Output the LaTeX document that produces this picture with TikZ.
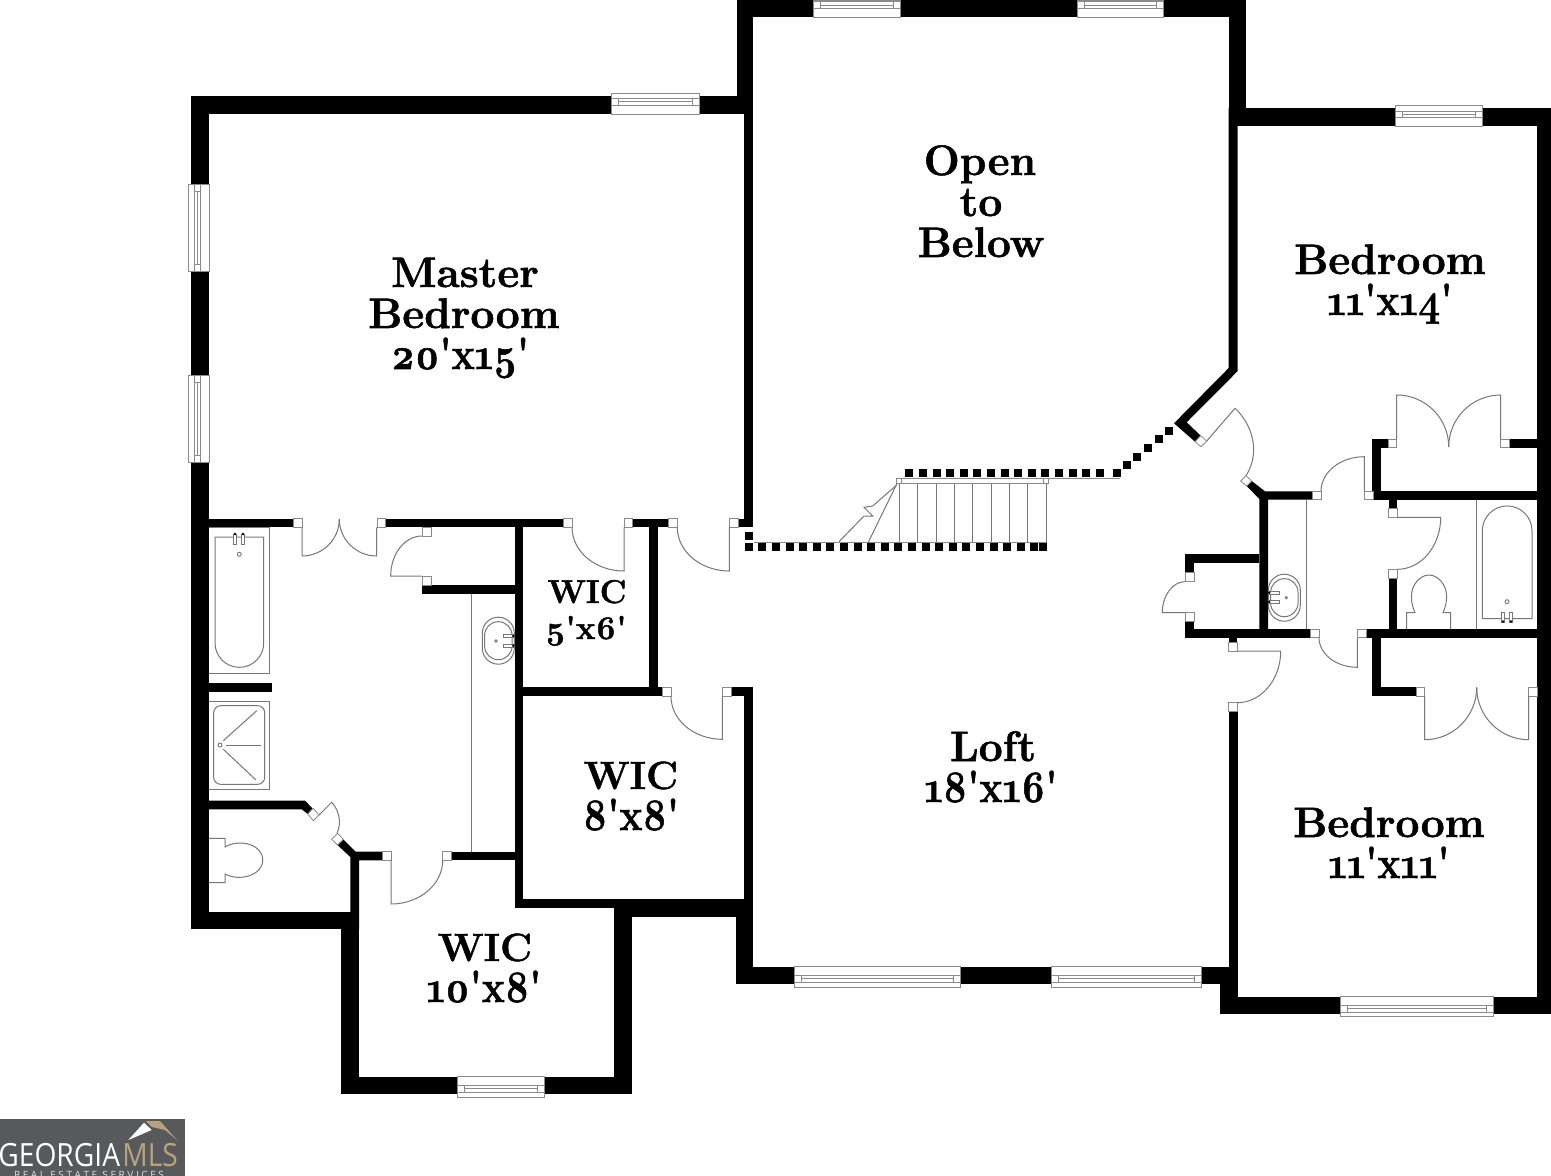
\documentclass[tikz,border=0pt]{standalone}
\usepackage{fontspec}
\newfontfamily\roomfont[Numbers=OldStyle,BoldFeatures={FakeBold=1.3}]{Latin Modern Roman}
\newfontfamily\logofont{Open Sans}
\definecolor{fineline}{HTML}{777777}
\definecolor{winline}{HTML}{8A8A8A}
\definecolor{logobg}{HTML}{58595B}
\definecolor{logotan}{HTML}{B9A27F}
\tikzset{
  wallfill/.style={fill=black},
  fine/.style={draw=fineline,line width=0.5pt},
  fixture/.style={draw=fineline,line width=0.45pt,fill=white},
  jambbox/.style={draw=winline,line width=0.4pt,fill=white},
  winbox/.style={draw=winline,line width=0.45pt,fill=white},
  big/.style={font=\roomfont\bfseries\fontsize{21.3}{24}\selectfont,inner sep=0pt,anchor=base},
  bignum/.style={font=\roomfont\bfseries\fontsize{22.5}{24}\selectfont,inner sep=0pt,anchor=base},
  bigwic/.style={font=\roomfont\bfseries\fontsize{19.7}{24}\selectfont,inner sep=0pt,anchor=base},
  small/.style={font=\roomfont\bfseries\fontsize{16.5}{20}\selectfont,inner sep=0pt,anchor=base},
}
\newcommand{\nm}[1]{\scalebox{0.86}[1]{#1}}
% wall rectangle: x1 y1 x2 y2
\newcommand{\wl}[4]{\fill[wallfill] (#1,#2) rectangle (#3,#4);}
\newcommand{\jb}[4]{\path[jambbox] (#1,#2) rectangle (#3,#4);}
% vertical leaf: hinge x,y ; tip y ; arc end x,y
\newcommand{\doorV}[5]{%
  \pgfmathsetmacro{\cax}{#1+0.5523*(#4-#1)}%
  \pgfmathsetmacro{\cby}{#5+0.5523*(#3-#5)}%
  \draw[fine] (#1,#2) -- (#1,#3) .. controls (\cax,#3) and (#4,\cby) .. (#4,#5);}
% horizontal leaf: hinge x,y ; tip x ; arc end x,y
\newcommand{\doorH}[5]{%
  \pgfmathsetmacro{\cay}{#2+0.5523*(#5-#2)}%
  \pgfmathsetmacro{\cbx}{#4+0.5523*(#3-#4)}%
  \draw[fine] (#1,#2) -- (#3,#2) .. controls (#3,\cay) and (\cbx,#5) .. (#4,#5);}
% horizontal window: x1 x2 ytop ybot l1 l2 l3
\newcommand{\winH}[7]{%
  \path[winbox] (#1,#3) rectangle (#2,#4);
  \pgfmathsetmacro{\wa}{#1+7}\pgfmathsetmacro{\wb}{#2-7}%
  \draw[winbox] (\wa,#5) rectangle (\wb,#7);
  \draw[winbox] (\wa,#6) -- (\wb,#6);
  \draw[winbox] (#1,#5) -- (\wa,#5) (#1,#7) -- (\wa,#7) (\wb,#5) -- (#2,#5) (\wb,#7) -- (#2,#7);}
% vertical window: y1 y2 xleft xright l1 l2 l3
\newcommand{\winV}[7]{%
  \path[winbox] (#3,#1) rectangle (#4,#2);
  \pgfmathsetmacro{\wa}{#1+7}\pgfmathsetmacro{\wb}{#2-7}%
  \draw[winbox] (#5,\wa) rectangle (#7,\wb);
  \draw[winbox] (#6,\wa) -- (#6,\wb);
  \draw[winbox] (#5,#1) -- (#5,\wa) (#7,#1) -- (#7,\wa) (#5,\wb) -- (#5,#2) (#7,\wb) -- (#7,#2);}
\newcommand{\dt}[2]{\fill[wallfill] ({#1-4},{#2-4}) rectangle ({#1+4},{#2+4});}
\begin{document}
\begin{tikzpicture}[x=0.5pt,y=-0.5pt]
\useasboundingbox (0,0) rectangle (1551,1176);
\fill[white] (0,0) rectangle (1551,1176);

% ---- stairs (under the dots) ----
\draw[winbox,fill=none] (754,542.3) -- (1046.5,542.3);
\draw[winbox,fill=none] (1046.5,478.3) -- (1120,478.3);
\foreach \tx in {899,917.7,936,954.3,972.7,991,1009.3,1027.7,1046.3}{
  \draw[fine] (\tx,483.3) -- (\tx,542.3);
}
\path[winbox] (899,478.3) rectangle (1046,483.3);
\path[winbox] (896.7,478) rectangle (901.3,483);
\path[winbox] (1043.7,478) rectangle (1048.3,483);
\draw[fine] (896.7,484) -- (868.3,542.3);
\draw[fine] (896.7,485) -- (872.7,506) -- (864,507.3) -- (872.7,516) -- (864,516) -- (839,541.7);

% ---- railing dots ----
\foreach \i in {0,...,14}{\dt{909.3+13.6*\i}{473}}
\dt{1116.7}{473}
\dt{1127}{465}\dt{1137.3}{456.7}\dt{1148}{448}\dt{1158.7}{439.3}\dt{1169.3}{430.7}
\foreach \i in {0,...,21}{\dt{748.7+13.6*\i}{547}}
\dt{1043}{547}
\dt{748.5}{535.5}

% ---- walls: master suite ----
\wl{191}{96}{209}{929.3}
\wl{191}{96}{753}{114}
\wl{737}{0}{753}{114}
\wl{744.3}{96}{753.3}{527.3}
\wl{737}{0}{1246}{17.3}
\wl{1228.7}{0}{1246}{126}
\wl{1228.7}{108.3}{1551}{126}
\wl{1537}{108.3}{1551}{1014}
\wl{209}{518.7}{293}{527.3}
\wl{385}{518.7}{563}{527.3}
\wl{632.7}{518.7}{668.3}{527.3}
\wl{738}{518.7}{753.3}{527.3}
\wl{514.7}{518.7}{523.3}{908}
\wl{649}{518.7}{658}{696.3}
\wl{514.7}{687}{662.3}{696.3}
\wl{731}{687}{753.3}{696.3}
\wl{744.3}{687}{753.3}{917}
\wl{422}{585}{514.7}{594}
\wl{209}{683}{272.3}{692}
\fill[wallfill] (209,800.7) -- (305,800.7) -- (312.5,808.3) -- (307.7,814) -- (301.7,809.3) -- (209,809.3) -- cycle;
\fill[wallfill] (337.5,845) -- (343.3,839.3) -- (355.7,851.7) -- (382.3,851.7) -- (382.3,860.3) -- (359,860.3) -- (359,929.3) -- (350.3,929.3) -- (350.3,857) -- cycle;
\wl{451.7}{851.7}{514.7}{860.3}
\wl{191}{911.7}{359}{929.3}
\wl{341.3}{911.7}{359}{1094.3}
\wl{341.3}{1076.7}{631.7}{1094.3}
\wl{614.3}{899}{631.7}{1094.3}
\wl{514.7}{899}{744.3}{908}
\wl{614.3}{899}{753.3}{917}
\wl{735.7}{908}{753.3}{984.3}
\wl{735.7}{966.7}{1237.7}{984.3}
\wl{1219.7}{966.7}{1237.7}{1014}
\wl{1219.7}{996.7}{1551}{1014}
\wl{1228.7}{711.7}{1237.5}{1000}

% ---- walls: right side ----
\fill[wallfill] (1228.7,108.3) -- (1237.7,108.3) -- (1237.7,371) -- (1186.7,422.3) -- (1200.7,435.7) -- (1195,441.7) -- (1174,423.3) -- (1228.7,368) -- cycle;
\fill[wallfill] (1246.7,486) -- (1251.7,481) -- (1265,491.3) -- (1312.3,491.3) -- (1312.3,499.7) -- (1268,499.7) -- (1268,637.7) -- (1259.3,637.7) -- (1259.3,499) -- cycle;
\wl{1373}{491.3}{1537}{499.7}
\wl{1372.3}{439}{1381.3}{499.7}
\wl{1372.3}{439}{1388}{447.7}
\wl{1509.3}{439}{1537}{447.7}
\wl{1388.7}{499.7}{1397.3}{508.7}
\wl{1388.7}{578}{1397.3}{629}
\wl{1185}{629}{1310.3}{637.7}
\wl{1366}{629}{1537}{637.7}
\wl{1185}{553.7}{1259.3}{562.7}
\wl{1185}{553.7}{1194}{572.7}
\wl{1185}{621.7}{1194}{637.7}
\wl{1228.7}{637.7}{1237.3}{642.3}
\wl{1372.3}{637.7}{1381.3}{696}
\wl{1372.3}{687.3}{1416}{696}

% ---- door jambs ----
\jb{293}{518.7}{302}{527.3}
\jb{377}{518.7}{385}{527.3}
\jb{422}{527.3}{431}{536}
\jb{422}{576}{431}{585}
\jb{563}{518.7}{572}{527.3}
\jb{624}{518.7}{632.7}{527.3}
\jb{668.3}{518.7}{677.3}{527.3}
\jb{729.3}{518.7}{738}{527.3}
\jb{662.3}{687}{671}{696.3}
\jb{722.3}{687}{731}{696.3}
\jb{382.3}{851.7}{391}{860.3}
\jb{442.7}{851.7}{451.7}{860.3}
\path[jambbox] (307.7,814) -- (313.3,808.3) -- (319,815) -- (313.3,820.7) -- cycle;
\path[jambbox] (331.7,839.3) -- (337.7,833.3) -- (343.3,839.3) -- (337.5,845) -- cycle;
\path[jambbox] (1195,441.7) -- (1200.7,435.7) -- (1206.7,441) -- (1201,446.7) -- cycle;
\path[jambbox] (1240.7,481) -- (1246,475.7) -- (1251.7,481) -- (1246.7,486) -- cycle;
\jb{1312.3}{491.3}{1321}{499.7}
\jb{1364.3}{491.3}{1373}{499.7}
\jb{1388}{439}{1396.7}{447.7}
\jb{1500.7}{439}{1509.3}{447.7}
\jb{1388.7}{508.7}{1397.3}{517.3}
\jb{1388.7}{569.3}{1397.3}{578}
\jb{1310.3}{629}{1319}{637.7}
\jb{1357.3}{629}{1366}{637.7}
\jb{1185}{572.7}{1194}{581.7}
\jb{1185}{612.7}{1194}{621.7}
\jb{1228.7}{642.3}{1237.3}{651}
\jb{1228.7}{702.7}{1237.3}{711.7}
\jb{1416}{687.3}{1424.7}{696}
\jb{1528.7}{687.3}{1537}{696}

% ---- door leaves ----
\doorV{302}{527.3}{556}{339.3}{519}
\doorV{376.7}{527.3}{556}{339.3}{519}
\doorH{422}{576}{390.7}{422}{536}
\doorV{624}{527.3}{571}{572}{527.3}
\doorV{729.3}{527.3}{571}{677.3}{527.3}
\doorV{722.3}{696.3}{739.3}{671}{696.3}
\doorV{391}{860.3}{904}{442.7}{860.3}
\draw[fine] (319,815) -- (331.7,802.3) .. controls (339,810) and (342,823) .. (337,833);
\draw[fine] (1206.7,441) -- (1235,408.3) .. controls (1252,424) and (1261,452) .. (1246,475.7);
\doorV{1364.3}{491.3}{456.7}{1321}{491.3}
\doorV{1357.3}{637.7}{667.3}{1319}{637.7}
\doorH{1185}{612.7}{1162.3}{1185}{581.7}
\doorH{1237.3}{651}{1280.7}{1237.3}{702.7}
\doorH{1397.3}{517.3}{1440.7}{1397.3}{569.3}
\doorV{1396.7}{439}{395}{1448.7}{447}
\doorV{1500.7}{439}{395}{1448.7}{447}
\doorV{1424.7}{696}{739.7}{1476.7}{687.3}
\doorV{1528.7}{696}{739.7}{1476.7}{687.3}

% ---- master bath fixtures ----
\draw[fine,fill=white] (209,527.3) -- (269.7,527.3) -- (269.7,673.3) -- (209,673.3);
\draw[fine] (215,537) -- (263.7,537) -- (263.7,643) arc[start angle=0,end angle=180,radius=24.35] -- cycle;
\draw[fixture] (233.5,534) rectangle (236.5,544.3);
\draw[fixture] (241.5,534) rectangle (244.5,544.3);
\fill[black] (235,534) circle[radius=1.4];
\fill[black] (243,534) circle[radius=1.4];
\draw[fixture] (239.3,554.3) circle[radius=2];
\draw[fine] (209,701) -- (269.7,701) -- (269.7,789) -- (209,789);
\draw[fine,rounded corners=3.5pt] (213.7,705.7) rectangle (264.7,784.3);
\draw[fixture] (220,745) circle[radius=2];
\draw[fine] (223.3,740.7) -- (256.7,710.7);
\draw[fine] (226,745) -- (260.7,745);
\draw[fine] (223.3,749.3) -- (256,780);
\draw[fine] (209,838.3) -- (225,838.3) -- (225,847) .. controls (240,838) and (263,845) .. (262.7,860) .. controls (263,875) and (240,882) .. (225,874) -- (225,882.7) -- (209,882.7);
\draw[fine] (471,594) -- (471,851.7);
\draw[fine,rounded corners=8pt] (482.3,617.2) rectangle (514.3,664.2);
\draw[fine,rounded corners=6.8pt] (484.6,621.7) rectangle (512,659.7);
\draw[fixture] (503.3,634.5) rectangle (513.3,637.5);
\draw[fixture] (503.3,644.2) rectangle (513.3,647.2);
\fill[black] (513.3,636) circle[radius=1.4];
\fill[black] (513.3,645.7) circle[radius=1.4];
\draw[fixture] (496,641) circle[radius=1.2];

% ---- right bath fixtures ----
\draw[fine] (1306.3,499.7) -- (1306.3,629);
\draw[fine,rounded corners=8pt] (1268.3,574.2) rectangle (1300.3,621.2);
\draw[fine,rounded corners=6.8pt] (1270.6,578.7) rectangle (1298,616.7);
\draw[fixture] (1269.3,591.2) rectangle (1279.3,594.2);
\draw[fixture] (1269.3,600.5) rectangle (1279.3,603.5);
\fill[black] (1269.3,592.7) circle[radius=1.4];
\fill[black] (1269.3,602) circle[radius=1.4];
\draw[fixture] (1286.3,597.7) circle[radius=1.2];
\draw[fine] (1476.7,499.7) -- (1476.7,629);
\draw[fine] (1482.3,618.7) -- (1482.3,530.8) arc[start angle=180,end angle=360,radius=24.85] -- (1532,618.7) -- cycle;
\draw[fixture] (1501.5,612.3) rectangle (1504.5,622.3);
\draw[fixture] (1509.5,612.3) rectangle (1512.5,622.3);
\fill[black] (1503,621.5) circle[radius=1.4];
\fill[black] (1511,621.5) circle[radius=1.4];
\draw[fixture] (1507,601.7) circle[radius=2];
\draw[fine] (1406.7,629) -- (1406.7,612.7) -- (1415,612.7) .. controls (1405,590) and (1418,575) .. (1429,575) .. controls (1440,575) and (1453,590) .. (1443,612.7) -- (1450.7,612.7) -- (1450.7,629);

% ---- windows ----
\winH{611}{699}{93.5}{114}{98.3}{101.7}{105}
\winV{184}{271.7}{188.7}{209}{194}{197}{200}
\winV{375.7}{462.7}{188.7}{209}{194}{197}{200}
\winH{813.7}{900}{0}{17.3}{1.7}{5}{8.3}
\winH{1077}{1163.4}{0}{17.3}{1.7}{5}{8.3}
\winH{1395.6}{1482.5}{105}{126}{111.7}{114.3}{117.3}
\winH{457.3}{544}{1076.7}{1097.3}{1085.7}{1088.3}{1092.3}
\winH{794}{960}{966.7}{987.3}{975.3}{978.7}{982.3}
\winH{1051.3}{1201.3}{966.7}{987.3}{975.3}{978.7}{982.3}
\winH{1340.3}{1493.3}{996.7}{1016.7}{1005.3}{1008.7}{1012.3}

% ---- room labels ----
\node[big] (mastera) at (465,287) {Master};
\node[big] (masterb) at (464,328) {Bedroom};
\node[bignum] (masterc) at (460,369) {\nm{20'x15'}};
\node[big] (opena) at (980,175) {Open};
\node[big] (openb) at (981,216) {to};
\node[big] (openc) at (981,257) {Below};
\node[big] (beda) at (1390,274) {Bedroom};
\node[bignum] (bedb) at (1390,315) {\nm{11'x14'}};
\node[small] (wica) at (587,603) {WIC};
\node[small] (wicb) at (586,639) {5'x6'};
\node[bigwic] (wicc) at (631,789) {WIC};
\node[bignum] (wicd) at (631,830) {\nm{8'x8'}};
\node[big] (lofta) at (993,761) {Loft};
\node[bignum] (loftb) at (991,802) {\nm{18'x16'}};
\node[bigwic] (wice) at (485,961) {WIC};
\node[bignum] (wicf) at (484,1002) {\nm{10'x8'}};
\node[big] (bedc) at (1389,837) {Bedroom};
\node[bignum] (bedd) at (1389,878) {\nm{11'x11'}};

% ---- logo ----
\fill[logobg] (0,1119) rectangle (185,1176);
\fill[white] (128.3,1140) -- (144,1122.7) -- (151.7,1130) -- cycle;
\fill[logotan] (146,1121) -- (160,1121) -- (177,1140) -- (165,1130) -- (152,1127) -- cycle;
\node[font=\logofont\fontsize{16}{18}\selectfont,text=white,inner sep=0pt,anchor=base west] (logoa) at (-2,1166) {\scalebox{0.88}[1]{GEORGIA}};
\node[font=\logofont\fontsize{16}{18}\selectfont,text=logotan,inner sep=0pt,anchor=base west] (logob) at (122,1166) {\scalebox{0.88}[1]{MLS}};
\node[font=\logofont\fontsize{5}{6}\selectfont,text=white!80!logobg,inner sep=0pt,anchor=base] (logoc) at (89,1178) {R E A L\ \ E S T A T E\ \ S E R V I C E S};
\end{tikzpicture}
\end{document}
